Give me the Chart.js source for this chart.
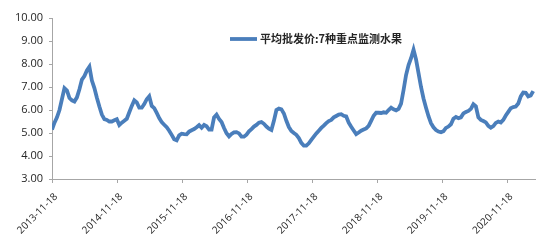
<!DOCTYPE html>
<html>
<head>
<meta charset="utf-8">
<script src="https://cdn.jsdelivr.net/npm/chart.js@4"></script>
<style>
  html, body { margin: 0; padding: 0; background: #fff; }
  #wrap { width: 550px; height: 240px; }
</style>
</head>
<body>
<div id="wrap"><canvas id="priceChart"></canvas></div>
<script>
// samples every 14 days
const startDate = "2013-11-18";
const stepDays = 14;
const seriesName = "平均批发价:7种重点监测水果";
const tickLabels = ["2013-11-18", "2014-11-18", "2015-11-18", "2016-11-18",
  "2017-11-18", "2018-11-18", "2019-11-18", "2020-11-18"];
const yTicks = [3, 4, 5, 6, 7, 8, 9, 10];

const prices = [
  5.15, 5.45, 5.68, 6.00, 6.48, 6.95, 6.85, 6.52, 6.42, 6.37,
  6.55, 6.90, 7.32, 7.48, 7.72, 7.88, 7.28, 6.95, 6.53, 6.15,
  5.80, 5.60, 5.57, 5.50, 5.50, 5.55, 5.60, 5.35, 5.45, 5.53,
  5.62, 5.90, 6.18, 6.42, 6.33, 6.10, 6.10, 6.26, 6.47, 6.60,
  6.18, 6.08, 5.87, 5.65, 5.47, 5.36, 5.25, 5.10, 4.92, 4.73,
  4.68, 4.90, 4.97, 4.95, 4.94, 5.06, 5.12, 5.17, 5.25, 5.34,
  5.23, 5.35, 5.29, 5.15, 5.15, 5.68, 5.80, 5.61, 5.48, 5.22,
  4.99, 4.85, 4.96, 5.03, 5.04, 4.98, 4.84, 4.84, 4.93, 5.07,
  5.17, 5.28, 5.35, 5.45, 5.48, 5.40, 5.28, 5.19, 5.13, 5.53,
  6.00, 6.06, 6.03, 5.85, 5.53, 5.26, 5.09, 5.00, 4.92, 4.78,
  4.57, 4.45, 4.45, 4.55, 4.70, 4.84, 4.98, 5.10, 5.22, 5.32,
  5.43, 5.52, 5.57, 5.68, 5.74, 5.80, 5.82, 5.75, 5.72, 5.45,
  5.27, 5.11, 4.95, 5.02, 5.10, 5.15, 5.20, 5.31, 5.53, 5.75,
  5.88, 5.88, 5.87, 5.90, 5.88, 6.00, 6.10, 6.03, 5.98, 6.05,
  6.28, 6.87, 7.52, 7.95, 8.25, 8.62, 8.20, 7.60, 7.00, 6.50,
  6.10, 5.73, 5.43, 5.25, 5.13, 5.06, 5.03, 5.08, 5.22, 5.28,
  5.38, 5.62, 5.70, 5.64, 5.68, 5.85, 5.91, 5.96, 6.05, 6.25,
  6.16, 5.68, 5.57, 5.52, 5.46, 5.31, 5.23, 5.30, 5.44, 5.50,
  5.46, 5.57, 5.76, 5.92, 6.08, 6.13, 6.15, 6.28, 6.59, 6.76,
  6.75, 6.59, 6.63, 6.82
];

function daysFromStart(str) {
  const [y, m, d] = str.split("-").map(Number);
  const [y0, m0, d0] = startDate.split("-").map(Number);
  return (Date.UTC(y, m - 1, d) - Date.UTC(y0, m0 - 1, d0)) / 86400000;
}

const tickDays = tickLabels.map(daysFromStart);
const points = prices.map((v, i) => ({ x: i * stepDays, y: v }));

const axisColor = "#a6a6a6";
const textColor = "#262626";
const lineColor = "#4a7ebb";

// legend drawn inside the plot, like the original
const innerLegend = {
  id: "innerLegend",
  afterDraw(chart) {
    const { ctx, chartArea } = chart;
    const x = chartArea.left + 178;
    const y = chartArea.top + 21;
    ctx.save();
    ctx.strokeStyle = lineColor;
    ctx.lineWidth = 3.8;
    ctx.beginPath();
    ctx.moveTo(x, y);
    ctx.lineTo(x + 27, y);
    ctx.stroke();
    ctx.fillStyle = textColor;
    ctx.font = "bold 11px 'Noto Sans CJK SC'";
    ctx.textBaseline = "middle";
    ctx.fillText(seriesName, x + 30, y);
    ctx.restore();
  }
};

new Chart(document.getElementById("priceChart"), {
  type: "line",
  data: {
    datasets: [{
      label: seriesName,
      data: points,
      borderColor: lineColor,
      borderWidth: 3.8,
      pointRadius: 0,
      tension: 0,
      fill: false
    }]
  },
  options: {
    responsive: true,
    maintainAspectRatio: false,
    animation: false,
    layout: { padding: { top: 18, right: 15, left: 0, bottom: 0 } },
    plugins: {
      legend: { display: false },
      tooltip: { enabled: false }
    },
    scales: {
      x: {
        type: "linear",
        min: 0,
        max: 2712,
        afterBuildTicks: s => { s.ticks = tickDays.map(v => ({ value: v })); },
        afterFit: s => { s.height = 61; },
        ticks: {
          autoSkip: false,
          maxRotation: 45,
          minRotation: 45,
          padding: 8,
          labelOffset: 4,
          color: textColor,
          font: { family: "Open Sans", size: 10 },
          callback: (v, i) => tickLabels[i]
        },
        grid: { display: true, drawOnChartArea: false, drawTicks: true, tickLength: 4, color: axisColor },
        border: { display: true, color: axisColor }
      },
      y: {
        min: 3,
        max: 10,
        afterBuildTicks: s => { s.ticks = yTicks.map(v => ({ value: v })); },
        afterFit: s => { s.width = 52; },
        ticks: {
          padding: 6,
          color: textColor,
          font: { family: "Open Sans", size: 11 },
          callback: v => v.toFixed(2)
        },
        grid: { display: true, drawOnChartArea: false, drawTicks: true, tickLength: 3, color: axisColor },
        border: { display: true, color: axisColor }
      }
    }
  },
  plugins: [innerLegend]
});
</script>
</body>
</html>
